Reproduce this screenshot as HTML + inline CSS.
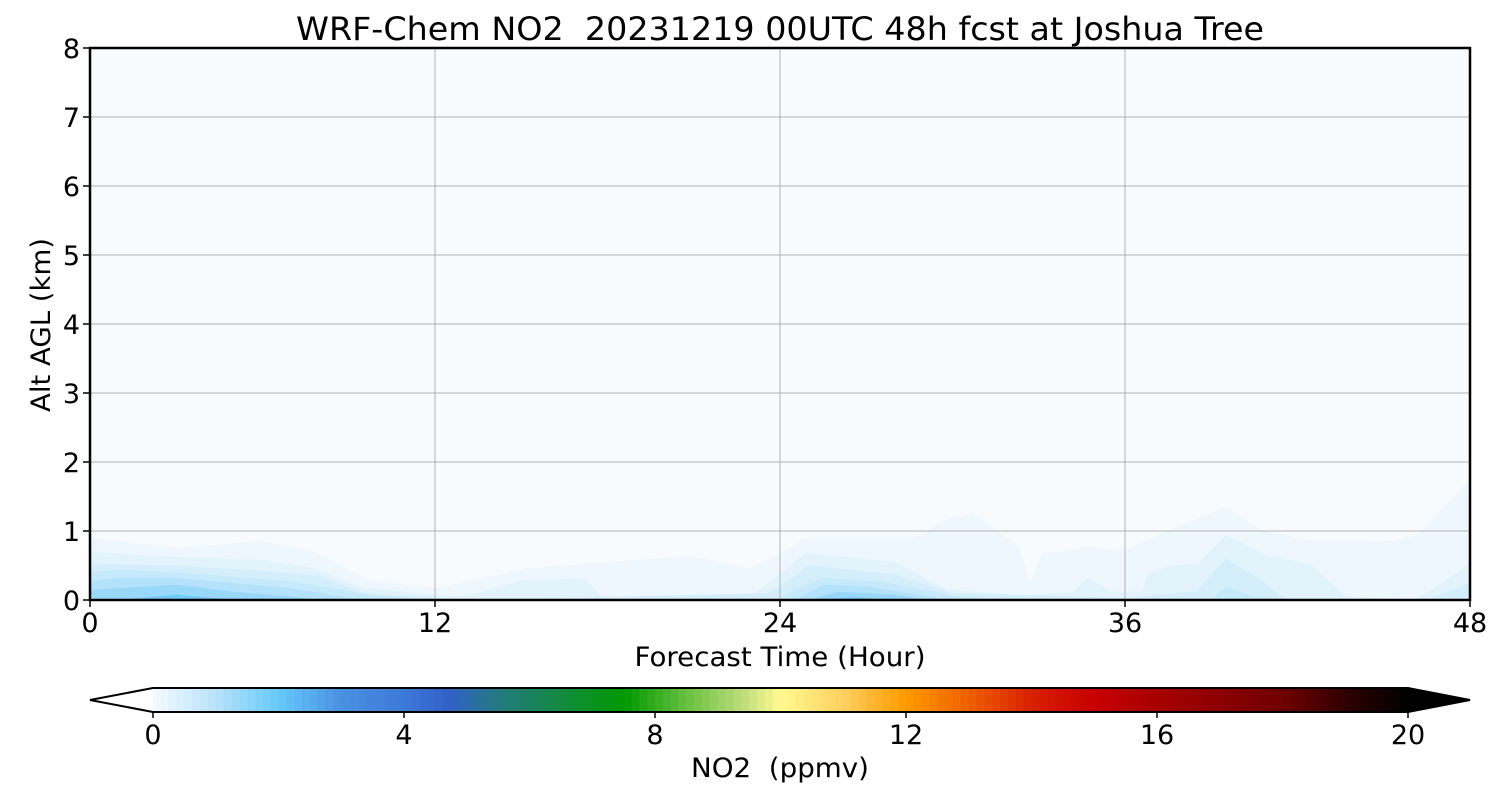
<!DOCTYPE html>
<html><head><meta charset="utf-8"><style>
html,body{margin:0;padding:0;background:#fff;}
svg{display:block;font-family:"DejaVu Sans","Liberation Sans",sans-serif;}
</style></head><body>
<svg id="chart" width="1500" height="800" viewBox="0 0 1500 800" xmlns="http://www.w3.org/2000/svg">
<defs><clipPath id="pc"><rect x="90" y="48" width="1380" height="552"/></clipPath></defs>
<text x="780" y="40" font-size="32" text-anchor="middle" textLength="968" lengthAdjust="spacingAndGlyphs" style="white-space:pre">WRF-Chem NO2  20231219 00UTC 48h fcst at Joshua Tree</text>
<rect x="90" y="48" width="1380" height="552" fill="#f7fbfe"/>
<g id="contours" clip-path="url(#pc)"></g>
<g id="grid"></g>
<rect x="90" y="48" width="1380" height="552" fill="none" stroke="#000" stroke-width="2.5"/>
<g id="axes" font-size="27"></g>
<text x="780" y="666" font-size="27" text-anchor="middle" textLength="291" lengthAdjust="spacingAndGlyphs">Forecast Time (Hour)</text>
<text transform="translate(50,325) rotate(-90)" font-size="27" text-anchor="middle" textLength="174" lengthAdjust="spacingAndGlyphs">Alt AGL (km)</text>
<g id="cbar"></g>
<text x="780" y="777" font-size="27" text-anchor="middle" textLength="178" lengthAdjust="spacingAndGlyphs" style="white-space:pre">NO2  (ppmv)</text>
</svg>
<script>
// ---- data ----
const xTicks = [0, 12, 24, 36, 48];
const yTicks = [0, 1, 2, 3, 4, 5, 6, 7, 8];
const cbTicks = [0, 4, 8, 12, 16, 20];
const levelColors = ['#eef7fd','#e2f3fc','#d5eefc','#c6e9fb','#b4e2fb','#9ad8fa','#72cbfa'];
// level 1 (outermost)
const l1Hours = [0,3.1,5.9,7.7,9.7,12,15.2,18,20.9,23,24,24.9,28.7,29.8,30.7,32.3,32.7,33.1,34.7,36,37.3,39.5,40.8,42.4,45.4,46.2,48];
const l1Alt   = [0.9,0.75,0.86,0.72,0.29,0.17,0.46,0.55,0.63,0.47,0.67,0.9,0.9,1.17,1.26,0.78,0.26,0.67,0.77,0.72,0.97,1.35,1.0,0.87,0.86,0.95,1.75];
// level 2
const l2Hours = [0,3,6,7.7,9.5,12,13,15,17.2,17.8,22.8,23.5,24,24.9,28,29.8,32.5,34.2,34.7,35.5,36.6,36.8,37.6,38.5,39.5,41,42.4,43.7,46.1,47.7,48];
const l2Alt   = [0.7,0.62,0.58,0.47,0.18,0.07,0.05,0.28,0.32,0.05,0,0.22,0.38,0.68,0.55,0.15,0.07,0.12,0.32,0.12,0.12,0.39,0.5,0.52,0.93,0.64,0.53,0.05,0,0.43,0.55];
// level 3
const l3Hours = [0,3,6,8,9.5,12,14,23.5,24,25,28,30,36,38.5,39.5,40.7,41.6,46.5,48];
const l3Alt   = [0.52,0.5,0.42,0.35,0.1,0.03,0,0.1,0.2,0.5,0.37,0.1,0.03,0.13,0.6,0.3,0,0,0.25];
// level 4
const l4Hours = [0,1,3,7,10,12,24,24.5,25.5,27.5,30,32,39,39.5,40.5,42];
const l4Alt   = [0.4,0.44,0.4,0.27,0.06,0,0,0.15,0.32,0.27,0.06,0,0,0.2,0.05,0];
// level 5
const l5Hours = [0,1,3,7,9,12,24.5,25.5,27,29,30];
const l5Alt   = [0.28,0.32,0.32,0.17,0.03,0,0,0.22,0.2,0.06,0];
// level 6
const l6Hours = [0,2,3,5,7,8,25,26,28,29];
const l6Alt   = [0.14,0.2,0.22,0.12,0.05,0,0,0.12,0.08,0];
// level 7 (deepest)
const l7Hours = [1,3,5,25,26.5,28];
const l7Alt   = [0,0.08,0,0,0.04,0];
const cmapVals = [0,1,2,3,4,4.7,5.5,6.5,7.5,8.5,9.5,10,11,12,13,14,15,16,18,19,20];
const cmapCols = ['#f7fbff','#b8e2fa','#66c8fa','#4a90e0','#3d78d8','#3060c8','#237a80','#138a40','#009900','#66c040','#c8e080','#fffa90','#ffd060','#ff9a00','#ee6000','#d82000','#c80000','#a80000','#700000','#300000','#000000'];

// ---- scales ----
const X0=90,X1=1470,Y0=600,Y1=48;
const xs = h => X0 + (h/48)*(X1-X0);
const ys = k => Y0 - (k/8)*(Y0-Y1);
const CB0=153,CB1=1408;
const cs = v => CB0 + (v/20)*(CB1-CB0);
const NS='http://www.w3.org/2000/svg';
function mk(tag, attrs, parent){const e=document.createElementNS(NS,tag);for(const k in attrs)e.setAttribute(k,attrs[k]);parent.appendChild(e);return e;}

// contours
const cg=document.getElementById('contours');
const levels=[[l1Hours,l1Alt],[l2Hours,l2Alt],[l3Hours,l3Alt],[l4Hours,l4Alt],[l5Hours,l5Alt],[l6Hours,l6Alt],[l7Hours,l7Alt]];
levels.forEach((lv,i)=>{
  const [hs,as]=lv;
  let pts=hs.map((h,j)=>xs(h).toFixed(1)+','+ys(as[j]).toFixed(1));
  pts.push(xs(hs[hs.length-1]).toFixed(1)+','+(Y0+2));
  pts.push(xs(hs[0]).toFixed(1)+','+(Y0+2));
  const p=mk('polygon',{points:pts.join(' '),fill:levelColors[i]},cg);
  
  
});

// grid
const gg=document.getElementById('grid');
xTicks.forEach(t=>{const l=mk('line',{x1:xs(t),x2:xs(t),y1:Y1,y2:Y0,stroke:'#b0b0b0','stroke-width':1},gg);

});
yTicks.forEach(t=>{const l=mk('line',{x1:X0,x2:X1,y1:ys(t),y2:ys(t),stroke:'#b0b0b0','stroke-width':1},gg);

});

// axes
const ag=document.getElementById('axes');
xTicks.forEach(t=>{
  const l=mk('line',{x1:xs(t),x2:xs(t),y1:Y0,y2:Y0+7,stroke:'#000','stroke-width':1.5},ag);
  
  
  const tx=mk('text',{x:xs(t),y:Y0+32,'text-anchor':'middle'},ag);tx.textContent=t;
  
  
});
yTicks.forEach(t=>{
  const l=mk('line',{x1:X0-7,x2:X0,y1:ys(t),y2:ys(t),stroke:'#000','stroke-width':1.5},ag);
  
  
  const tx=mk('text',{x:X0-10,y:ys(t)+10,'text-anchor':'end'},ag);tx.textContent=t;
  
  
});

// colorbar
function hex(c){return [1,3,5].map(i=>parseInt(c.substr(i,2),16));}
function cmap(v){
  for(let i=0;i<cmapVals.length-1;i++){
    if(v<=cmapVals[i+1]){const f=(v-cmapVals[i])/(cmapVals[i+1]-cmapVals[i]);
      const a=hex(cmapCols[i]),b=hex(cmapCols[i+1]);
      return 'rgb('+a.map((x,k)=>Math.round(x+(b[k]-x)*f)).join(',')+')';}
  }
  return cmapCols[cmapCols.length-1];
}
const cb=document.getElementById('cbar');
const step=0.125, CBY=688, CBH=24;
for(let v=0;v<20-1e-9;v+=step){
  const r=mk('rect',{x:cs(v).toFixed(2),y:CBY,width:(cs(v+step)-cs(v)+0.6).toFixed(2),height:CBH,fill:cmap(v+step/2)},cb);
  
  
}
const lt=mk('polygon',{points:`${CB0},${CBY} 90,${CBY+CBH/2} ${CB0},${CBY+CBH}`,fill:'#fff'},cb);


const rt=mk('polygon',{points:`${CB1},${CBY} 1470,${CBY+CBH/2} ${CB1},${CBY+CBH}`,fill:'#000'},cb);


const ol=mk('polygon',{points:`${CB0},${CBY} ${CB1},${CBY} 1470,${CBY+CBH/2} ${CB1},${CBY+CBH} ${CB0},${CBY+CBH} 90,${CBY+CBH/2}`,fill:'none',stroke:'#000','stroke-width':2},cb);


cbTicks.forEach(t=>{
  const l=mk('line',{x1:cs(t),x2:cs(t),y1:CBY+CBH,y2:CBY+CBH+6,stroke:'#000','stroke-width':1.5},cb);
  
  
  const tx=mk('text',{x:cs(t),y:CBY+CBH+32,'text-anchor':'middle','font-size':27},cb);tx.textContent=t;
  
  
});
</script>
</body></html>
